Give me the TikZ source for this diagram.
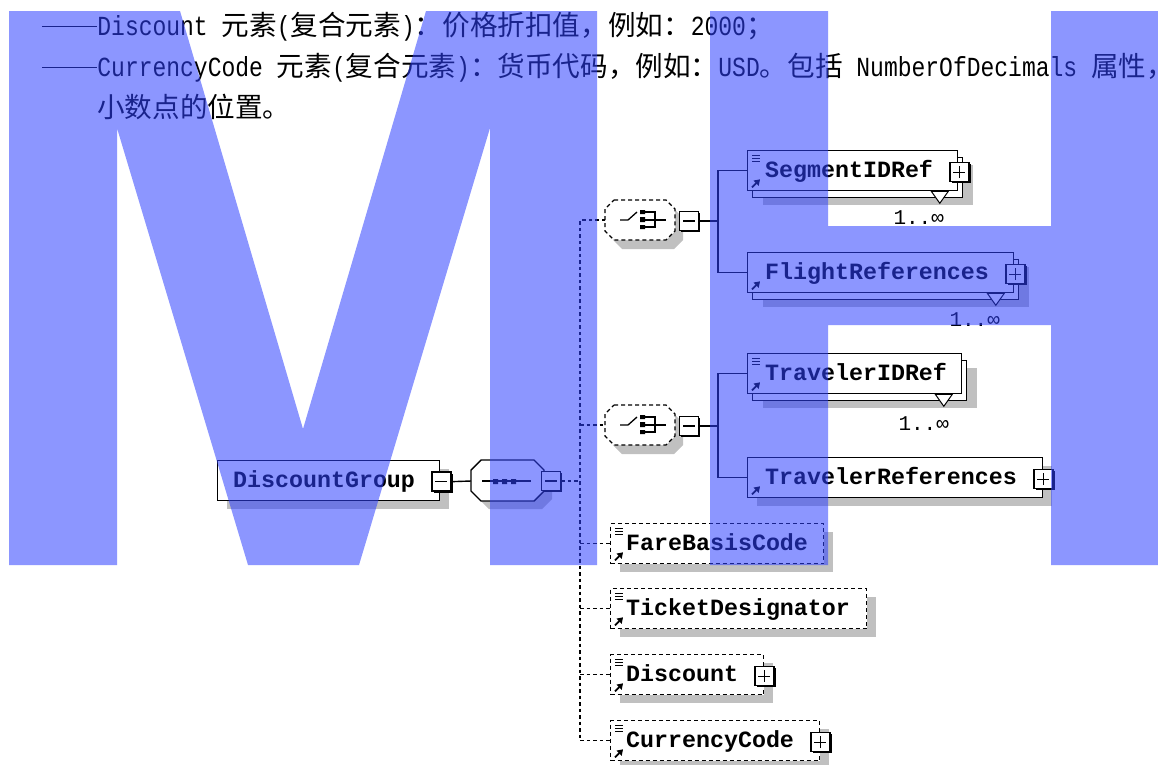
\documentclass[tikz,border=0pt]{standalone}
\usepackage{fontspec}
\usetikzlibrary{arrows.meta,calc}
\newfontfamily\cjk{Noto Sans CJK SC}
\newfontfamily\lat[FakeStretch=0.8333]{Liberation Mono}
\newfontfamily\monof{Liberation Mono}
\newcommand\tf{\fontsize{27.6pt}{30pt}\selectfont}
\newcommand\lblf{\monof\bfseries\fontsize{23.3pt}{25pt}\selectfont}
\newcommand\occf{\monof\fontsize{21pt}{23pt}\selectfont}
\newcommand\dashes{\rule[8pt]{55.2pt}{1.3pt}}
\definecolor{wm}{RGB}{46,64,255}
\definecolor{shg}{RGB}{192,192,192}
\newcommand\eqicon[1]{\draw[line width=0.9pt] ([shift={(5,5)}]#1.north west) -- ++(8,0) ([shift={(5,8)}]#1.north west) -- ++(8,0) ([shift={(5,11)}]#1.north west) -- ++(8,0);}
\newcommand\arricon[1]{\draw[line width=1.8pt,-{Triangle[length=5.5pt,width=7pt]}] ([shift={(5,-4)}]#1.south west) -- ++(8,-8);}
\newcommand\mtri[1]{\draw[fill=white,line width=1pt] ([shift={(-27,0)}]#1.south east) -- ([shift={(-10,0)}]#1.south east) -- ([shift={(-18.5,12)}]#1.south east) -- cycle;}
\tikzset{
  ln/.style={line width=1.4pt},
  dln/.style={line width=1.3pt, dash pattern=on 3.5pt off 3pt},
  elem/.style={draw, fill=white, line width=1.3pt, anchor=north west, inner sep=0pt, minimum height=40pt},
  sh/.style={preaction={fill=shg, transform canvas={shift={(9pt,-8pt)}}}},
  multi/.style={preaction={fill=shg, transform canvas={shift={(15pt,-14pt)}}}, preaction={draw, fill=white, line width=1.3pt, transform canvas={shift={(5pt,-7pt)}}}},
  opt/.style={dash pattern=on 4pt off 3pt},
  pm/.style={draw, fill=white, line width=1.4pt, minimum size=19pt, inner sep=0pt, preaction={fill=black, transform canvas={shift={(1.8pt,-1.8pt)}}}},
  minusbox/.style={pm, path picture={\draw[line width=1.3pt] ([xshift=-6pt]path picture bounding box.center) -- ([xshift=6pt]path picture bounding box.center);}},
  plusbox/.style={pm, path picture={\draw[line width=1.3pt] ([xshift=-6pt]path picture bounding box.center) -- ([xshift=6pt]path picture bounding box.center) ([yshift=-6pt]path picture bounding box.center) -- ([yshift=6pt]path picture bounding box.center);}},
  lbl/.style={font=\lblf, inner sep=0pt, anchor=base west},
  occ/.style={font=\occf, inner sep=0pt, anchor=base west},
  txt/.style={font=\tf, inner sep=0pt, anchor=base west},
}
\begin{document}
\begin{tikzpicture}[x=1pt,y=-1pt]
\useasboundingbox (0,0) rectangle (1158,764);
\fill[white] (0,0) rectangle (1158,764);
% ---------- text lines
\node[txt] (l1) at (42,35) {\dashes{\lat Discount\ }{\cjk 元素}{\lat (}{\cjk 复合元素}{\lat )}{\cjk ：价格折扣值，例如：}{\lat 2000}{\cjk ；}};
\node[txt] (l2) at (42,76) {\dashes{\lat CurrencyCode\ }{\cjk 元素}{\lat (}{\cjk 复合元素}{\lat )}{\cjk ：货币代码，例如：}{\lat USD}{\cjk 。包括}{\lat \ NumberOfDecimals\ }{\cjk 属性\makebox[9pt][l]{，}}};
\node[txt] (l3) at (97,117) {{\cjk 小数点的位置。}};
% ---------- root element
\node[elem, sh, minimum width=222pt] (dg) at (217,460) {};
\node[lbl] (tdg) at ([shift={(16,7)}]dg.west) {DiscountGroup};
\node[minusbox] (dgm) at ([shift={(1,1)}]dg.east) {};
% ---------- sequence compositor
\fill[shg] (489,468) -- (542,468) -- (552,478) -- (552,499) -- (542,509) -- (489,509) -- (479,499) -- (479,478) -- cycle;
\draw[ln, fill=white] (481,460) -- (534,460) -- (544,470) -- (544,491) -- (534,501) -- (481,501) -- (471,491) -- (471,470) -- cycle;
\coordinate (seqL) at (471,481);
\draw[ln] (482,481) -- (531,481);
\fill (493,479) rectangle (498,484) (502,479) rectangle (507,484) (511,479) rectangle (516,484);
\node[minusbox] (seqm) at (551,481) {};
\draw[ln] (dgm.east) -- (seqL);
% ---------- choice compositors
\foreach \cy/\nm in {220/1,425/2}{
  \fill[shg] (622,\cy-11) -- (674,\cy-11) -- (683,\cy-2) -- (683,\cy+20) -- (674,\cy+29) -- (622,\cy+29) -- (613,\cy+20) -- (613,\cy-2) -- cycle;
  \draw[fill=white, line width=1.2pt, dash pattern=on 4pt off 3pt] (614,\cy-20) -- (666,\cy-20) -- (675,\cy-11) -- (675,\cy+11) -- (666,\cy+20) -- (614,\cy+20) -- (605,\cy+11) -- (605,\cy-11) -- cycle;
  \coordinate (ch\nm) at (605,\cy);
  \draw[line width=1.3pt] (620,\cy) -- (628,\cy) -- (637,\cy-8);
  \fill (640,\cy-10) rectangle (645,\cy-6) (640,\cy-3) rectangle (645,\cy+2) (640,\cy+5) rectangle (645,\cy+9);
  \draw[line width=1.3pt] (645,\cy-8) -- (655,\cy-8) -- (655,\cy+7) -- (645,\cy+7) (645,\cy) -- (666,\cy);
  \node[minusbox] (cm\nm) at (689,\cy+1) {};
  \coordinate (j\nm) at (718,\cy+1);
  \draw[ln] (cm\nm.east) -- (j\nm);
}
% ---------- children of choice 1
\node[elem, multi, minimum width=210pt] (seg) at (747,150) {};
\node[lbl] (tseg) at ([shift={(18,7)}]seg.west) {SegmentIDRef};
\node[plusbox] (segp) at ([shift={(1,1.5)}]seg.east) {};
\mtri{seg}
\eqicon{seg}\arricon{seg}
\node[occ] (oseg) at ([shift={(-65,33)}]seg.south east) {1..∞};
\node[elem, multi, minimum width=266pt] (flt) at (747,252) {};
\node[lbl] (tflt) at ([shift={(18,7)}]flt.west) {FlightReferences};
\node[plusbox] (fltp) at ([shift={(1,1.5)}]flt.east) {};
\mtri{flt}
\arricon{flt}
\node[occ] (oflt) at ([shift={(-65,33)}]flt.south east) {1..∞};
\draw[ln] (seg.west) -| (j1) |- (flt.west);
% ---------- children of choice 2
\node[elem, multi, minimum width=214pt] (tid) at (747,353) {};
\node[lbl] (ttid) at ([shift={(18,7)}]tid.west) {TravelerIDRef};
\mtri{tid}
\eqicon{tid}\arricon{tid}
\node[occ] (otid) at ([shift={(-64,36)}]tid.south east) {1..∞};
\node[elem, sh, minimum width=295pt] (trf) at (747,457) {};
\node[lbl] (ttrf) at ([shift={(18,7)}]trf.west) {TravelerReferences};
\node[plusbox] (trfp) at ([shift={(0,1.5)}]trf.east) {};
\arricon{trf}
\draw[ln] (tid.west) -| (j2) |- (trf.west);
% ---------- optional simple elements
\node[elem, sh, opt, minimum width=213pt] (fbc) at (610,523) {};
\node[lbl] (tfbc) at ([shift={(16,7)}]fbc.west) {FareBasisCode};
\eqicon{fbc}\arricon{fbc}
\node[elem, sh, opt, minimum width=256pt] (tkd) at (610,588) {};
\node[lbl] (ttkd) at ([shift={(16,7)}]tkd.west) {TicketDesignator};
\eqicon{tkd}\arricon{tkd}
\node[elem, sh, opt, minimum width=153pt] (dsc) at (610,654) {};
\node[lbl] (tdsc) at ([shift={(16,7)}]dsc.west) {Discount};
\node[plusbox] (dscp) at ([shift={(0,1.5)}]dsc.east) {};
\eqicon{dsc}\arricon{dsc}
\node[elem, sh, opt, minimum width=209pt] (cur) at (610,720) {};
\node[lbl] (tcur) at ([shift={(16,7)}]cur.west) {CurrencyCode};
\node[plusbox] (curp) at ([shift={(0,1.5)}]cur.east) {};
\eqicon{cur}\arricon{cur}
% ---------- dashed spine
\coordinate (spine) at (580,220);
\draw[dln] (ch1) -- (ch1 -| spine) |- (cur.west);
\foreach \t in {ch2, fbc.west, tkd.west, dsc.west} \draw[dln] (\t -| spine) -- (\t);
\draw[dln] (seqm.east) -- (seqm.east -| spine);
% ---------- watermark
\fill[wm, fill opacity=0.55] (9,11) -- (180,11) -- (303,429) -- (426,11) -- (597,11) -- (597,565) -- (490,565) -- (490,128) -- (359,565) -- (248,565) -- (117,128) -- (117,565) -- (9,565) -- cycle;
\fill[wm, fill opacity=0.55] (710,11) -- (828,11) -- (828,226) -- (1051,226) -- (1051,11) -- (1160,11) -- (1160,565) -- (1051,565) -- (1051,325) -- (828,325) -- (828,565) -- (710,565) -- cycle;
\end{tikzpicture}
\end{document}
